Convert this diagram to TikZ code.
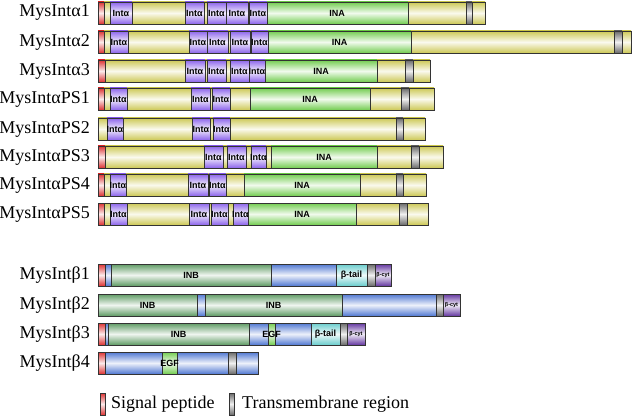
\documentclass[tikz,border=0pt]{standalone}
\usepackage{fontspec}
\setmainfont{Liberation Serif}
\newfontfamily\domfont{Liberation Sans}
\definecolor{cyel}{RGB}{205,200,85}
\definecolor{cgrn}{RGB}{115,205,80}
\definecolor{cvio}{RGB}{140,100,235}
\definecolor{cred}{RGB}{220,50,50}
\definecolor{cgry}{RGB}{105,105,105}
\definecolor{cdgr}{RGB}{95,155,100}
\definecolor{cblu}{RGB}{80,120,210}
\definecolor{ccya}{RGB}{105,205,205}
\definecolor{cpur}{RGB}{100,55,160}
\tikzset{
  x=1pt,y=-1pt,
  seg/.style={draw=black!80,line width=0.9pt,top color=#1,bottom color=#1,middle color=#1!10},
  Y/.style={seg=cyel}, G/.style={seg=cgrn}, V/.style={seg=cvio}, R/.style={seg=cred},
  K/.style={seg=cgry}, D/.style={seg=cdgr}, B/.style={seg=cblu}, C/.style={seg=ccya},
  P/.style={seg=cpur},
  namelbl/.style={anchor=east,inner sep=0pt,font=\fontsize{18}{19}\selectfont},
  domlbl/.style={inner sep=0pt,font=\domfont\bfseries\fontsize{9}{10}\selectfont},
  cytlbl/.style={inner sep=0pt,font=\domfont\bfseries\fontsize{5.5}{6}\selectfont},
  legtxt/.style={anchor=west,inner sep=0pt,font=\fontsize{18}{19}\selectfont}
}
\newcommand{\domrow}[4]{%
  \node[namelbl] (#1) at (90,#3+11) {#2};
  \foreach \xa/\xb/\st in {#4} {\path[\st] (\xa,#3) rectangle (\xb,#3+22);}
}
\newcommand{\dlab}[4]{\node[domlbl] (#1) at (#2,#3+11) {#4};}
\begin{document}
\begin{tikzpicture}
\useasboundingbox (0,0) rectangle (633,420);
% alpha 1
\domrow{a1}{MysIntα1}{2}{98/104/R,104/110/Y,110/132/V,132/185/Y,185/204/V,204/207/Y,207/226/V,226/248/V,248/249/Y,249/267/V,267/408/G,408/466/Y,466/472/K,472/485/Y}
\dlab{a1i1}{121}{2}{Intα}\dlab{a1i2}{194.5}{2}{Intα}\dlab{a1i3}{216.5}{2}{Intα}\dlab{a1i4}{237}{2}{Intα}\dlab{a1i5}{258}{2}{Intα}\dlab{a1n}{337}{2}{INA}
% alpha 2
\domrow{a2}{MysIntα2}{31}{98/104/R,104/110/Y,110/128/V,128/189/Y,189/207/V,207/228/V,228/230/Y,230/250/V,250/251/Y,251/268/V,268/411/G,411/614/Y,614/622/K,622/631/Y}
\dlab{a2i1}{119}{31}{Intα}\dlab{a2i2}{198}{31}{Intα}\dlab{a2i3}{217.5}{31}{Intα}\dlab{a2i4}{240}{31}{Intα}\dlab{a2i5}{259.5}{31}{Intα}\dlab{a2n}{339.5}{31}{INA}
% alpha 3
\domrow{a3}{MysIntα3}{60}{98/105/R,105/185/Y,185/205/V,205/207/Y,207/226/V,226/230/Y,230/249/V,249/265/V,265/377/G,377/405/Y,405/413/K,413/430/Y}
\dlab{a3i1}{195}{60}{Intα}\dlab{a3i2}{216.5}{60}{Intα}\dlab{a3i3}{239.5}{60}{Intα}\dlab{a3i4}{257}{60}{Intα}\dlab{a3n}{321}{60}{INA}
% PS1
\domrow{p1}{MysIntαPS1}{88}{98/104/R,104/110/Y,110/127/V,127/191/Y,191/210/V,210/212/Y,212/230/V,230/250/Y,250/370/G,370/401/Y,401/409/K,409/434/Y}
\dlab{p1i1}{118.5}{88}{Intα}\dlab{p1i2}{200.5}{88}{Intα}\dlab{p1i3}{221}{88}{Intα}\dlab{p1n}{310}{88}{INA}
% PS2
\domrow{p2}{MysIntαPS2}{118}{98/107/Y,107/123/V,123/192/Y,192/210/V,210/213/Y,213/230/V,230/396/Y,396/403/K,403/425/Y}
\dlab{p2i1}{115}{118}{Intα}\dlab{p2i2}{201}{118}{Intα}\dlab{p2i3}{221.5}{118}{Intα}
% PS3
\domrow{p3}{MysIntαPS3}{146}{98/105/R,105/204/Y,204/223/V,223/227/Y,227/246/V,246/251/Y,251/266/V,266/271/Y,271/377/G,377/411/Y,411/419/K,419/443/Y}
\dlab{p3i1}{213.5}{146}{Intα}\dlab{p3i2}{236.5}{146}{Intα}\dlab{p3i3}{258.5}{146}{Intα}\dlab{p3n}{324}{146}{INA}
% PS4
\domrow{p4}{MysIntαPS4}{174}{98/104/R,104/110/Y,110/126/V,126/188/Y,188/208/V,208/209/Y,209/226/V,226/244/Y,244/360/G,360/396/Y,396/403/K,403/426/Y}
\dlab{p4i1}{118}{174}{Intα}\dlab{p4i2}{198}{174}{Intα}\dlab{p4i3}{217.5}{174}{Intα}\dlab{p4n}{302}{174}{INA}
% PS5
\domrow{p5}{MysIntαPS5}{203}{98/104/R,104/110/Y,110/127/V,127/189/Y,189/209/V,209/211/Y,211/228/V,228/233/Y,233/248/V,248/356/G,356/399/Y,399/407/K,407/428/Y}
\dlab{p5i1}{118.5}{203}{Intα}\dlab{p5i2}{199}{203}{Intα}\dlab{p5i3}{219.5}{203}{Intα}\dlab{p5i4}{240.5}{203}{Intα}\dlab{p5n}{302}{203}{INA}
% beta 1
\domrow{b1}{MysIntβ1}{264}{98/105/R,105/111/B,111/271/D,271/336/B,336/367/C,367/375/K,375/391/P}
\dlab{b1n}{191}{264}{INB}\dlab{b1t}{351.5}{264}{β-tail}
\node[cytlbl] (b1c) at (383,275) {β-cyt};
% beta 2
\domrow{b2}{MysIntβ2}{294}{98/197/D,197/205/B,205/342/D,342/436/B,436/443/K,443/460/P}
\dlab{b2n1}{147.5}{294}{INB}\dlab{b2n2}{273.5}{294}{INB}
\node[cytlbl] (b2c) at (451.5,305) {β-cyt};
% beta 3
\domrow{b3}{MysIntβ3}{323}{98/105/R,105/108/B,108/249/D,249/268/B,268/275/G,275/311/B,311/340/C,340/347/K,347/365/P}
\dlab{b3n}{178.5}{323}{INB}\dlab{b3e}{271.5}{323}{EGF}\dlab{b3t}{325.5}{323}{β-tail}
\node[cytlbl] (b3c) at (356,334) {β-cyt};
% beta 4
\domrow{b4}{MysIntβ4}{352}{98/105/R,105/162/B,162/177/G,177/228/B,228/236/K,236/258/B}
\dlab{b4e}{169.5}{352}{EGF}
% legend
\path[R] (100,393) rectangle (105,415);
\node[legtxt] (lsp) at (111,404) {Signal peptide};
\path[K] (229,393) rectangle (234,415);
\node[legtxt] (ltm) at (242,404) {Transmembrane region};
\end{tikzpicture}
\end{document}
